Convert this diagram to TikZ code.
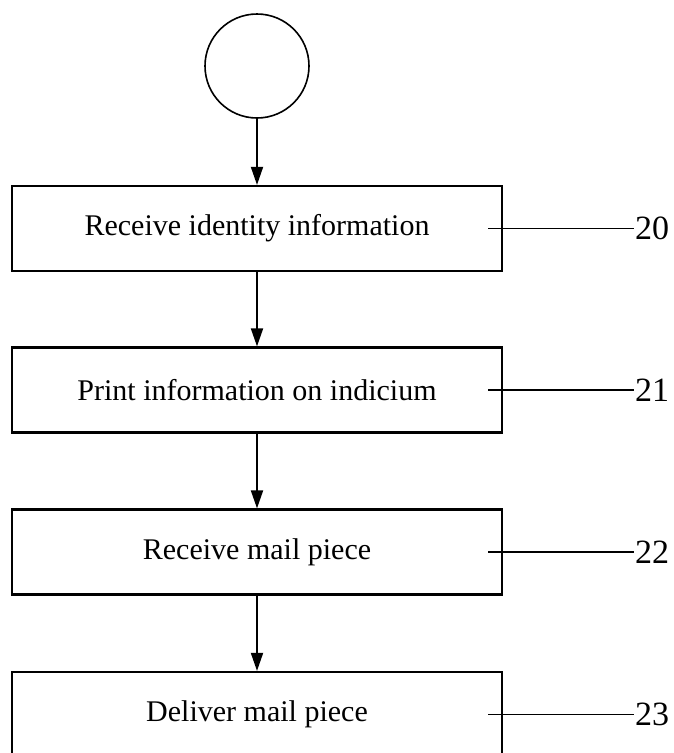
\documentclass[tikz,border=0pt]{standalone}
\usepackage{fontspec}
\setmainfont{Liberation Serif}
\usetikzlibrary{arrows.meta}
\begin{document}
\begin{tikzpicture}[x=1pt,y=-1pt,
  stepbox/.style={draw, line width=2.2pt, minimum width=490pt, minimum height=85pt, inner sep=0pt,
    font=\fontsize{30}{36}\selectfont},
  startcirc/.style={draw, circle, line width=1.6pt, minimum size=104pt, inner sep=0pt},
  flow/.style={line width=1.8pt, -{Triangle[length=18pt,width=12pt]}},
  leader/.style={line width=1.6pt},
  reflabel/.style={anchor=west, inner sep=1pt, font=\fontsize{34}{40}\selectfont}]
\useasboundingbox (0,0) rectangle (673,753);
\clip (0,0) rectangle (673,753);
\node[startcirc] (c) at (257,66) {};
\node[stepbox] (b1) at (257,228.5) {Receive identity information};
\node[stepbox] (b2) at (257,390) {Print information on indicium};
\node[stepbox] (b3) at (257,552) {Receive mail piece};
\node[stepbox] (b4) at (257,714.5) {Deliver mail piece};
\node[reflabel] (l1) at (634,228.5) {20};
\node[reflabel] (l2) at (634,390) {21};
\node[reflabel] (l3) at (634,552) {22};
\node[reflabel] (l4) at (634,714.5) {23};
\draw[flow] (c.south) -- (b1.north);
\draw[flow] (b1.south) -- (b2.north);
\draw[flow] (b2.south) -- (b3.north);
\draw[flow] (b3.south) -- (b4.north);
\draw[leader] ([xshift=-15pt]b1.east) -- (l1.west);
\draw[leader] ([xshift=-15pt]b2.east) -- (l2.west);
\draw[leader] ([xshift=-15pt]b3.east) -- (l3.west);
\draw[leader] ([xshift=-15pt]b4.east) -- (l4.west);
\end{tikzpicture}
\end{document}
